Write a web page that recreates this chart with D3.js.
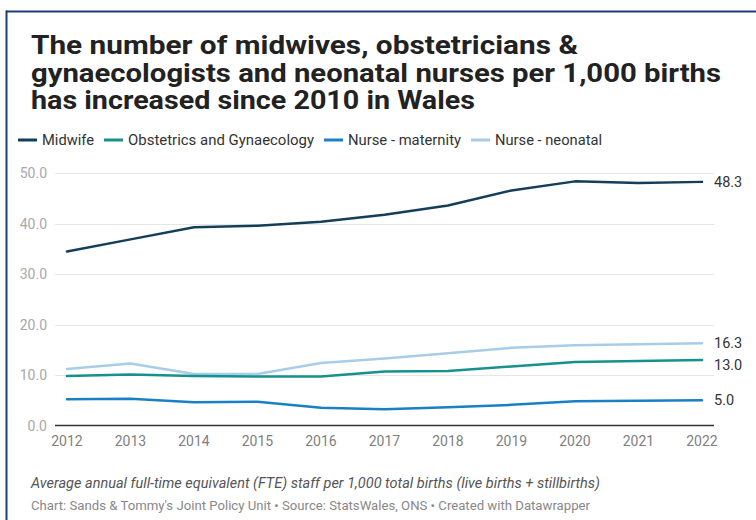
<!DOCTYPE html>
<html>
<head>
<meta charset="utf-8">
<script src="https://cdn.jsdelivr.net/npm/d3@7"></script>
<style>
  html, body { margin: 0; padding: 0; background: #fff; }
  svg { display: block; font-family: Roboto, "Noto Sans", sans-serif; }
</style>
</head>
<body>
<svg id="chart" width="756" height="520"></svg>
<script>
// Staff per 1,000 total births in Wales, 2012-2022
const years = [2012, 2013, 2014, 2015, 2016, 2017, 2018, 2019, 2020, 2021, 2022];
const midwife     = [34.5, 36.9, 39.3, 39.6, 40.4, 41.8, 43.6, 46.6, 48.4, 48.1, 48.3];
const obstetrics  = [9.8, 10.1, 9.8, 9.7, 9.7, 10.7, 10.8, 11.7, 12.6, 12.8, 13.0];
const maternity   = [5.2, 5.3, 4.6, 4.7, 3.5, 3.2, 3.6, 4.1, 4.8, 4.9, 5.0];
const neonatal    = [11.2, 12.3, 10.2, 10.2, 12.4, 13.3, 14.3, 15.4, 15.9, 16.1, 16.3];
const seriesNames = ["Midwife", "Obstetrics and Gynaecology", "Nurse - maternity", "Nurse - neonatal"];
const yTicks = [0, 10, 20, 30, 40, 50];

const titleLines = [
  "The number of midwives, obstetricians &",
  "gynaecologists and neonatal nurses per 1,000 births",
  "has increased since 2010 in Wales"
];
const noteText = "Average annual full-time equivalent (FTE) staff per 1,000 total births (live births + stillbirths)";
const sourceText = "Chart: Sands & Tommy's Joint Policy Unit \u2022 Source: StatsWales, ONS \u2022 Created with Datawrapper";

const colors = ["#143e5a", "#16918d", "#1a80c6", "#a8cdeb"];
const seriesValues = [midwife, obstetrics, maternity, neonatal];

const svg = d3.select("#chart");

// frame: top and left rule
svg.append("line").attr("x1", 6).attr("x2", 756).attr("y1", 11.5).attr("y2", 11.5)
  .attr("stroke", "#1c3f74").attr("stroke-width", 2);
svg.append("line").attr("x1", 6.5).attr("x2", 6.5).attr("y1", 10.5).attr("y2", 520)
  .attr("stroke", "#1c3f74").attr("stroke-width", 2);

// title
const titleWidths = [547, 690, 444];
svg.append("g").selectAll("text").data(titleLines).join("text")
  .attr("x", 31).attr("y", (d, i) => 54 + i * 27.5)
  .attr("font-size", 26).attr("font-weight", 700).attr("fill", "#222")
  .attr("textLength", (d, i) => titleWidths[i]).attr("lengthAdjust", "spacingAndGlyphs")
  .text(d => d);

// legend
const legendWidths = [52, 186, 113, 107];
const legend = svg.append("g").attr("transform", "translate(18,140)");
let lx = 0;
seriesNames.forEach((name, i) => {
  const g = legend.append("g").attr("transform", `translate(${lx},0)`);
  g.append("line").attr("x1", 0).attr("x2", 19).attr("y1", 0).attr("y2", 0)
    .attr("stroke", colors[i]).attr("stroke-width", 3);
  g.append("text").attr("x", 24).attr("y", 5).attr("font-size", 14)
    .attr("fill", "#333")
    .attr("textLength", legendWidths[i]).attr("lengthAdjust", "spacingAndGlyphs")
    .text(name);
  lx += 24 + legendWidths[i] + 10;
});

// scales
const x = d3.scalePoint().domain(years).range([67, 702]);
const y = d3.scaleLinear().domain([0, 50]).range([425.5, 173.3]);
const gridX0 = 55, gridX1 = 714;

// gridlines + y labels
const yAxis = svg.append("g");
yAxis.selectAll("line").data(yTicks.filter(d => d > 0)).join("line")
  .attr("x1", gridX0).attr("x2", gridX1)
  .attr("y1", d => Math.round(y(d)) + 0.5).attr("y2", d => Math.round(y(d)) + 0.5)
  .attr("stroke", "#e6e6e6").attr("stroke-width", 1);
yAxis.selectAll("text").data(yTicks).join("text")
  .attr("x", 47).attr("y", d => y(d) + 5)
  .attr("text-anchor", "end").attr("font-size", 14).attr("fill", "#a8a8a8")
  .text(d => d3.format(".1f")(d));

// baseline
svg.append("line").attr("x1", gridX0).attr("x2", gridX1)
  .attr("y1", y(0)).attr("y2", y(0)).attr("stroke", "#333").attr("stroke-width", 1.3);

// x labels
svg.append("g").selectAll("text").data(years).join("text")
  .attr("x", d => x(d)).attr("y", 446)
  .attr("text-anchor", "middle").attr("font-size", 14).attr("fill", "#7f7f7f")
  .text(d => d);

// lines (light ones drawn first)
const lineGen = d3.line().x((d, i) => x(years[i])).y(d => y(d));
const order = [3, 2, 1, 0];
svg.append("g").selectAll("path").data(order).join("path")
  .attr("d", i => lineGen(seriesValues[i]))
  .attr("fill", "none").attr("stroke", i => colors[i])
  .attr("stroke-width", 2.5).attr("stroke-linejoin", "round").attr("stroke-linecap", "round");

// end-value labels with simple overlap avoidance
const ends = seriesValues.map((v, i) => ({ v: v[v.length - 1], pos: y(v[v.length - 1]) }));
const sorted = ends.slice().sort((a, b) => a.pos - b.pos);
for (let k = 1; k < sorted.length; k++) {
  if (sorted[k].pos - sorted[k - 1].pos < 22) sorted[k].pos = sorted[k - 1].pos + 22;
}
svg.append("g").selectAll("text").data(ends).join("text")
  .attr("x", 714).attr("y", d => d.pos + 5)
  .attr("font-size", 14.5).attr("fill", "#333")
  .text(d => d3.format(".1f")(d.v));

// notes
svg.append("text").attr("x", 31).attr("y", 488)
  .attr("font-size", 14).attr("font-style", "italic").attr("fill", "#555")
  .attr("textLength", 569).attr("lengthAdjust", "spacingAndGlyphs")
  .text(noteText);
svg.append("text").attr("x", 31).attr("y", 510)
  .attr("font-size", 12.5).attr("fill", "#888")
  .attr("textLength", 559).attr("lengthAdjust", "spacingAndGlyphs")
  .text(sourceText);
</script>
</body>
</html>
